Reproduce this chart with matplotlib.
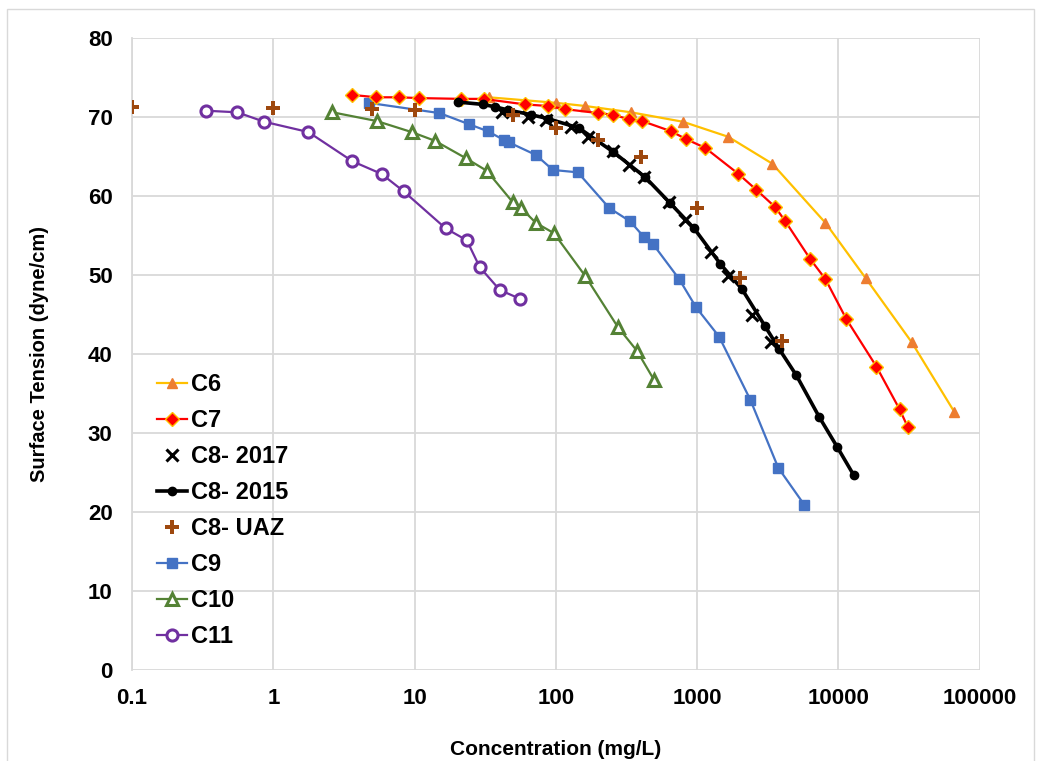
import numpy as np
import matplotlib.pyplot as plt
from matplotlib.patches import Rectangle

plt.rcParams['font.family'] = ['Liberation Sans', 'DejaVu Sans']

# C6
c6_x = [33.5, 100, 161, 340, 795, 1660, 3400, 8100, 15600, 33000, 66000]
c6_y = [72.5, 71.8, 71.4, 70.6, 69.4, 67.5, 64.1, 56.6, 49.6, 41.5, 32.7]
# C7
c7_x = [3.63, 5.37, 7.7, 10.8, 21.2, 30.8, 60.3, 87.7, 116, 199, 254, 330, 407,
        654, 836, 1140, 1960, 2620, 3570, 4210, 6330, 8080, 11400, 18600, 27100, 30900]
c7_y = [72.8, 72.5, 72.5, 72.4, 72.3, 72.3, 71.6, 71.4, 71.0, 70.5, 70.3, 69.7, 69.5,
        68.2, 67.2, 66.1, 62.8, 60.8, 58.6, 56.8, 52.0, 49.5, 44.4, 38.4, 33.0, 30.8]
# C8 2017
c8a_x = [41.4, 63.3, 84.9, 128, 169, 254, 330, 421, 633, 822, 1260, 1660, 2450, 3350]
c8a_y = [70.6, 70.0, 69.6, 68.7, 67.5, 65.7, 63.9, 62.4, 59.2, 57.0, 52.9, 49.9, 44.9, 41.5]
# C8 2015
c8b_x = [20.2, 30.4, 36.9, 45.7, 66.5, 87.8, 146, 254, 428, 644, 952, 1460, 2080,
         3030, 3820, 5040, 7330, 9830, 12800]
c8b_y = [71.9, 71.6, 71.3, 70.9, 70.3, 69.8, 68.6, 65.6, 62.4, 59.1, 55.9, 51.4, 48.2,
         43.5, 40.6, 37.3, 32.0, 28.2, 24.7]
# C8 UAZ
c8u_x = [0.1, 1, 5, 10, 50, 100, 200, 400, 1000, 2000, 4000]
c8u_y = [71.3, 71.1, 71.0, 70.9, 70.3, 68.6, 67.1, 64.9, 58.5, 49.6, 41.6]
# C9
c9_x = [4.72, 15.0, 24.2, 33.0, 42.8, 46.4, 72.2, 95.3, 143, 238, 335, 421, 488,
        745, 984, 1430, 2380, 3750, 5740]
c9_y = [71.8, 70.5, 69.1, 68.2, 67.1, 66.8, 65.2, 63.3, 63.0, 58.5, 56.8, 54.8, 53.9,
        49.5, 45.9, 42.2, 34.2, 25.6, 20.9]
# C10
c10_x = [2.62, 5.38, 9.52, 13.9, 23.0, 32.4, 49.6, 56.5, 72.2, 96.8, 161, 275, 375, 496]
c10_y = [70.6, 69.5, 68.1, 67.0, 64.8, 63.2, 59.2, 58.5, 56.6, 55.3, 49.9, 43.4, 40.4, 36.7]
# C11
c11_x = [0.335, 0.555, 0.863, 1.77, 3.63, 5.83, 8.36, 16.6, 23.4, 28.9, 40.1, 55.6]
c11_y = [70.8, 70.6, 69.4, 68.1, 64.4, 62.8, 60.6, 55.9, 54.4, 51.0, 48.1, 47.0]

fig = plt.figure(figsize=(10.4, 7.61), dpi=100)
ax = fig.add_axes([0.127, 0.1196, 0.815, 0.8304])

ax.plot(c6_x, c6_y, color='#FFC000', lw=1.6, marker='^', ms=7,
        mfc='#ED7D31', mec='#ED7D31', label='C6', zorder=3)
ax.plot(c7_x, c7_y, color='#FF0000', lw=1.6, marker='D', ms=7,
        mfc='#FF0000', mec='#FFC000', mew=1.0, label='C7', zorder=4)
ax.plot(c8a_x, c8a_y, ls='none', marker='x', ms=8, mew=2.2,
        color='black', label='C8- 2017', zorder=6)
ax.plot(c8b_x, c8b_y, color='black', lw=2.6, marker='o', ms=6,
        label='C8- 2015', zorder=5)
ax.plot(c8u_x, c8u_y, ls='none', marker='P', ms=10, mew=0,
        color='#9E480E', label='C8- UAZ', zorder=7)
ax.plot(c9_x, c9_y, color='#4472C4', lw=1.6, marker='s', ms=7,
        label='C9', zorder=3)
ax.plot(c10_x, c10_y, color='#548235', lw=1.6, marker='^', ms=9,
        mfc='white', mec='#548235', mew=2.2, label='C10', zorder=3)
ax.plot(c11_x, c11_y, color='#7030A0', lw=1.6, marker='o', ms=8,
        mfc='white', mec='#7030A0', mew=2.2, label='C11', zorder=3)

ax.set_xscale('log')
ax.set_xlim(0.1, 100000)
ax.set_ylim(0, 80)
ax.set_yticks(np.arange(0, 81, 10))
xt = [0.1, 1, 10, 100, 1000, 10000, 100000]
ax.set_xticks(xt)
ax.set_xticklabels(['0.1', '1', '10', '100', '1000', '10000', '100000'])
ax.xaxis.set_minor_locator(plt.NullLocator())
ax.grid(True, color='#D9D9D9', lw=1.3)
ax.set_axisbelow(True)
for s in ['top', 'right', 'bottom']:
    ax.spines[s].set_visible(False)
ax.spines['left'].set_color('#D9D9D9')
ax.spines['left'].set_linewidth(1.3)
ax.tick_params(length=0, labelsize=16)
ax.tick_params(axis='y', pad=14)
ax.tick_params(axis='x', pad=13)
for t in ax.get_xticklabels() + ax.get_yticklabels():
    t.set_fontweight('bold')

ax.set_xlabel('Concentration (mg/L)', fontsize=15, fontweight='bold', labelpad=22)
ax.set_ylabel('Surface Tension (dyne/cm)', fontsize=14.5, fontweight='bold', labelpad=28)

leg = ax.legend(loc='upper left', bbox_to_anchor=(0.018, 0.485), frameon=False,
                prop={'size': 17, 'weight': 'bold'}, handlelength=1.3,
                handletextpad=0.15, labelspacing=0.55, borderaxespad=0)

fig.patches.append(Rectangle((0.0067, -0.01), 0.9875, 0.998, transform=fig.transFigure,
                             fill=False, edgecolor='#D9D9D9', lw=1.0))

fig.savefig('out.png', dpi=100)
